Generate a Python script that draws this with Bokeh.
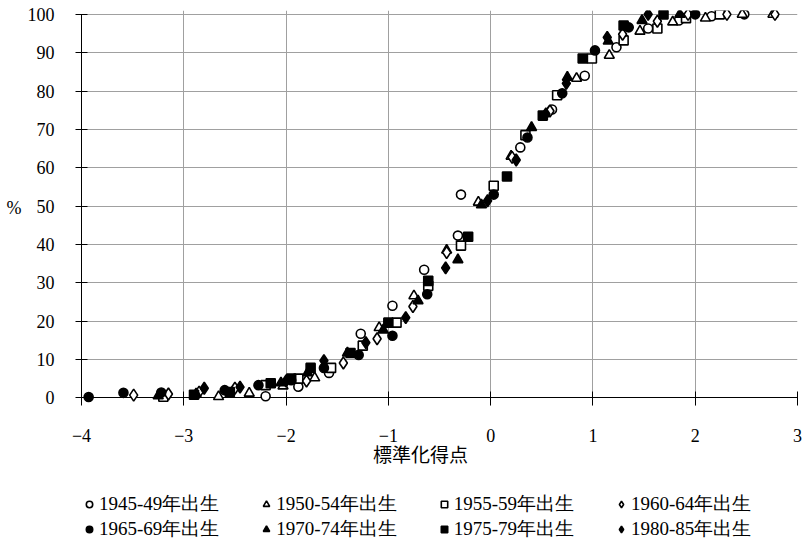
from bokeh.plotting import figure
from bokeh.layouts import column
from bokeh.models import Legend, LegendItem, FixedTicker, CustomJSTickFormatter, Grid
from bokeh.embed import file_html
from bokeh.resources import INLINE

# ---- data (standardized score, cumulative %) ----
labels = ["1945-49年出生", "1950-54年出生", "1955-59年出生", "1960-64年出生",
          "1965-69年出生", "1970-74年出生", "1975-79年出生", "1980-85年出生"]

s1945_x = [-2.20, -1.88, -1.58, -1.27, -0.96, -0.65, -0.32, -0.29, 0.29, 0.60, 0.92, 1.23, 1.54, 1.84, 2.16, 2.48]
s1945_y = [0.4, 2.9, 6.5, 16.7, 24.0, 33.4, 42.3, 53.0, 65.3, 75.2, 84.0, 91.4, 96.3, 98.4, 99.5, 100]

s1950_x = [-2.66, -2.36, -2.03, -1.72, -1.09, -0.75, -0.43, -0.12, 0.20, 0.84, 1.16, 1.46, 1.78, 2.10, 2.46, 2.76]
s1950_y = [0.3, 1.2, 3.1, 5.2, 18.3, 26.6, 38.5, 51.0, 63.0, 83.3, 89.3, 95.6, 98.0, 99.0, 100, 100]

s1955_x = [-3.20, -2.20, -1.88, -1.56, -1.25, -0.92, -0.61, -0.29, 0.03, 0.34, 0.65, 0.99, 1.30, 1.63, 1.91, 2.24]
s1955_y = [0.3, 3.3, 5.0, 7.8, 13.6, 19.6, 29.2, 39.7, 55.3, 68.5, 78.9, 88.5, 93.2, 96.3, 99.0, 100]

s1960_x = [-3.49, -3.15, -2.85, -2.50, -1.80, -1.44, -1.11, -0.76, -0.43, 0.21, 0.58, 1.29, 1.63, 1.93, 2.31, 2.78]
s1960_y = [0.7, 1.0, 1.5, 2.5, 4.4, 9.1, 15.4, 23.8, 37.9, 62.7, 74.8, 94.8, 98.2, 100, 100, 100]

s1965_x = [-3.93, -3.59, -3.22, -2.60, -2.27, -1.95, -1.63, -1.29, -0.96, -0.62, 0.03, 0.36, 0.70, 1.02, 1.35, 2.00]
s1965_y = [0.2, 1.3, 1.4, 2.0, 3.3, 4.6, 7.8, 11.2, 16.2, 27.0, 53.0, 67.9, 79.4, 90.6, 96.6, 100]

s1970_x = [-3.25, -2.88, -2.05, -1.79, -1.40, -1.05, -0.71, -0.32, -0.09, 0.40, 0.75, 1.15, 1.48, 1.85]
s1970_y = [0.5, 1.0, 3.9, 6.5, 11.7, 17.7, 25.3, 36.0, 50.3, 70.5, 83.6, 93.0, 98.4, 100]

s1975_x = [-2.90, -2.55, -2.15, -1.95, -1.76, -1.37, -1.00, -0.61, -0.22, 0.16, 0.51, 0.90, 1.30, 1.69]
s1975_y = [0.8, 1.5, 3.8, 5.0, 7.8, 11.7, 19.6, 30.5, 42.0, 57.7, 73.6, 88.5, 97.1, 100]

s1980_x = [-2.80, -2.45, -2.00, -1.63, -1.22, -0.83, -0.44, -0.03, 0.25, 0.54, 0.74, 1.14, 1.54]
s1980_y = [2.5, 2.8, 4.4, 9.7, 14.4, 20.9, 33.9, 51.4, 62.0, 74.0, 82.0, 94.0, 100]

x_ticks = [-4, -3, -2, -1, 0, 1, 2, 3]
y_ticks = [0, 10, 20, 30, 40, 50, 60, 70, 80, 90, 100]

series = [
    (s1945_x, s1945_y, "circle", 9, "white"),
    (s1950_x, s1950_y, "triangle", 10, "white"),
    (s1955_x, s1955_y, "square", 9, "white"),
    (s1960_x, s1960_y, "diamond", 12, "white"),
    (s1965_x, s1965_y, "circle", 9, "black"),
    (s1970_x, s1970_y, "triangle", 10, "black"),
    (s1975_x, s1975_y, "square", 9, "black"),
    (s1980_x, s1980_y, "diamond", 12, "black"),
]

SERIF = "Liberation Serif"

# ---------------- main chart ----------------
p = figure(width=807, height=476, x_range=(-4, 3), y_range=(-2, 101),
           output_backend="svg", toolbar_location=None,
           min_border_left=81, min_border_right=10, min_border_top=10, min_border_bottom=71)
p.outline_line_color = None
p.background_fill_color = "white"
p.border_fill_color = "white"

xt = FixedTicker(ticks=x_ticks)
yt = FixedTicker(ticks=y_ticks)
p.xaxis.ticker = xt
p.yaxis.ticker = yt
p.xgrid.ticker = xt
p.ygrid.ticker = yt
p.xgrid.grid_line_color = "#a0a0a0"
p.ygrid.grid_line_color = "#a0a0a0"
# black baseline at 0 %
p.add_layout(Grid(dimension=1, ticker=FixedTicker(ticks=[0]), grid_line_color="black"))

xa = p.xaxis[0]
xa.formatter = CustomJSTickFormatter(code="return tick < 0 ? '\\u2212' + (-tick) : String(tick);")
xa.axis_label = "標準化得点\u3000\u3000"
xa.axis_label_text_font = "Noto Sans CJK JP"
xa.axis_label_text_font_size = "19px"
xa.axis_label_text_font_style = "normal"
xa.axis_label_text_color = "black"
xa.axis_label_standoff = -5
xa.axis_line_color = None
xa.major_tick_in = 14
xa.major_tick_out = 0
xa.major_label_standoff = 23

ya = p.yaxis[0]
ya.bounds = (0, 100)
ya.axis_label = "%"
ya.axis_label_orientation = "horizontal"
ya.axis_label_text_font = SERIF
ya.axis_label_text_font_size = "18px"
ya.axis_label_text_font_style = "normal"
ya.axis_label_text_color = "black"
ya.axis_label_standoff = 3
ya.major_label_standoff = 21
ya.axis_line_color = "black"
ya.major_tick_in = 6
ya.major_tick_out = 6

for ax in (xa, ya):
    ax.major_label_text_font = SERIF
    ax.major_label_text_font_size = "18px"
    ax.major_label_text_color = "black"
    ax.major_tick_line_color = "black"
    ax.minor_tick_line_color = None

for xs, ys, marker, size, fill in series:
    p.scatter(xs, ys, marker=marker, size=size, fill_color=fill,
              line_color="black", line_width=1.6)

# ---------------- legend strip ----------------
# the strip's ranges lie outside the data, so its renderers only serve the legend
q = figure(width=807, height=69, x_range=(10, 11), y_range=(1000, 1001),
           output_backend="svg", toolbar_location=None,
           x_axis_type=None, y_axis_type=None, min_border=0)
q.outline_line_color = None
q.grid.visible = False

items = []
for (xs, ys, marker, size, fill), lab in zip(series, labels):
    r = q.scatter(x=xs, y=ys, marker=marker, size=size, fill_color=fill,
                  line_color="black", line_width=1.6)
    items.append(LegendItem(label=lab, renderers=[r]))

for row, yoff in ((items[:4], 28), (items[4:], 3)):
    lg = Legend(items=row, orientation="horizontal",
                location=(0, yoff), margin=0, padding=0, spacing=39,
                glyph_width=16, glyph_height=16, label_standoff=2,
                label_text_font=SERIF, label_text_font_size="19px",
                label_text_color="black",
                border_line_color=None, background_fill_alpha=0)
    q.add_layout(lg, "center")

layout = column(p, q, spacing=0)
open("out.html", "w", encoding="utf-8").write(file_html(layout, INLINE))
